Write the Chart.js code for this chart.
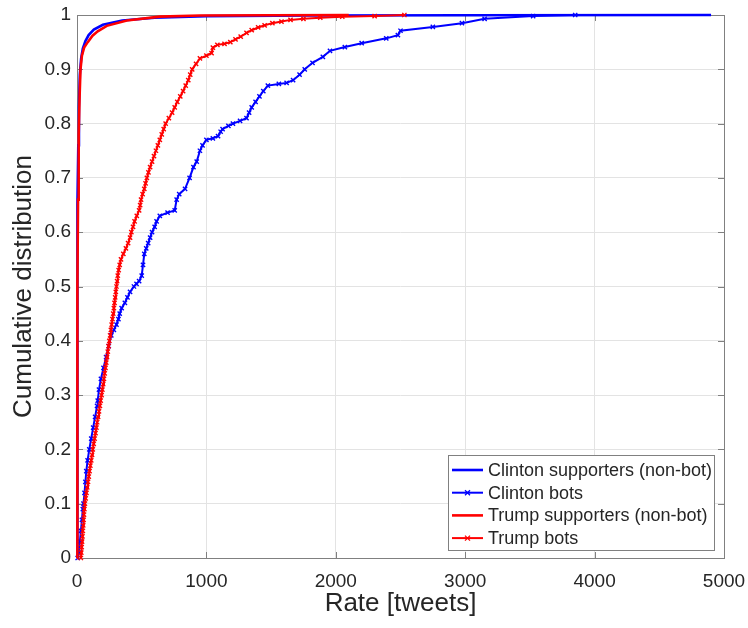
<!DOCTYPE html>
<html>
<head>
<meta charset="utf-8">
<title>Cumulative distribution of tweet rate</title>
<script src="https://cdn.jsdelivr.net/npm/chart.js@4/dist/chart.umd.min.js"></script>
<style>
  body { margin: 0; background: #fff; }
  #wrap { width: 748px; height: 628px; }
</style>
</head>
<body>
<div id="wrap"><canvas id="cdfChart" width="748" height="628"></canvas></div>
<script>
// Series: [rate, cumulative fraction] pairs
const clintonSupporters = [
  [0, 0], [1, 0.3], [3, 0.5], [6, 0.65], [10, 0.76], [15, 0.83], [22, 0.89], [32, 0.92],
  [45, 0.938], [65, 0.952], [90, 0.963], [130, 0.973], [200, 0.982], [350, 0.99],
  [600, 0.995], [1000, 0.998], [1800, 0.999], [3000, 0.9995], [4900, 1]
];
const clintonBots = [
  [5, 0], [15, 0.01], [22, 0.03], [30, 0.05], [38, 0.07], [45, 0.09], [50, 0.1], [58, 0.12],
  [65, 0.14], [72, 0.16], [82, 0.18], [95, 0.2], [110, 0.22], [125, 0.24], [140, 0.26],
  [155, 0.28], [160, 0.29], [170, 0.31], [185, 0.33], [205, 0.35], [225, 0.37], [245, 0.39],
  [265, 0.41], [285, 0.42], [305, 0.43], [320, 0.44], [330, 0.45], [345, 0.46], [370, 0.47],
  [390, 0.48], [410, 0.49], [440, 0.5], [460, 0.505], [480, 0.51], [500, 0.52], [510, 0.54],
  [520, 0.56], [535, 0.57], [550, 0.58], [565, 0.59], [580, 0.6], [600, 0.61], [615, 0.62],
  [640, 0.63], [700, 0.636], [755, 0.64], [770, 0.66], [790, 0.67], [835, 0.68], [870, 0.7],
  [900, 0.72], [925, 0.73], [950, 0.75], [970, 0.76], [1000, 0.77], [1050, 0.773],
  [1090, 0.777], [1110, 0.785], [1125, 0.79], [1170, 0.796], [1205, 0.8], [1260, 0.805],
  [1310, 0.81], [1330, 0.82], [1350, 0.83], [1380, 0.84], [1410, 0.85], [1440, 0.86],
  [1475, 0.87], [1560, 0.873], [1620, 0.875], [1670, 0.88], [1720, 0.89], [1760, 0.9],
  [1820, 0.912], [1900, 0.923], [1955, 0.934], [2070, 0.941], [2200, 0.948], [2390, 0.957],
  [2480, 0.963], [2500, 0.971], [2750, 0.978], [2975, 0.985], [3150, 0.993], [3525, 0.998],
  [3850, 1]
];
const trumpSupporters = [
  [0, 0], [2, 0.3], [4, 0.5], [8, 0.66], [13, 0.78], [20, 0.85], [27, 0.9], [38, 0.925],
  [55, 0.94], [83, 0.95], [120, 0.962], [160, 0.97], [230, 0.98], [385, 0.99], [640, 0.997],
  [950, 0.999], [1500, 0.9995], [2100, 1]
];
const trumpBots = [
  [30, 0], [33, 0.01], [36, 0.02], [39, 0.03], [42, 0.04], [45, 0.05], [48, 0.06], [51, 0.07],
  [54, 0.08], [57, 0.09], [61, 0.1], [67, 0.11], [73, 0.12], [79, 0.13], [85, 0.14], [91, 0.15],
  [97, 0.16], [103, 0.17], [110, 0.18], [116, 0.19], [122, 0.2], [129, 0.21], [136, 0.22],
  [143, 0.23], [150, 0.24], [156, 0.25], [163, 0.26], [170, 0.27], [177, 0.28], [183, 0.29],
  [190, 0.3], [196, 0.31], [202, 0.32], [208, 0.33], [214, 0.34], [220, 0.35], [226, 0.36],
  [232, 0.37], [238, 0.38], [244, 0.39], [250, 0.4], [256, 0.41], [262, 0.42], [268, 0.43],
  [274, 0.44], [280, 0.45], [285, 0.46], [290, 0.47], [295, 0.48], [300, 0.49], [305, 0.5],
  [310, 0.51], [315, 0.52], [322, 0.53], [330, 0.54], [340, 0.55], [358, 0.56], [378, 0.57],
  [395, 0.58], [410, 0.59], [420, 0.6], [433, 0.61], [445, 0.62], [462, 0.63], [480, 0.64],
  [488, 0.65], [495, 0.66], [507, 0.67], [520, 0.68], [530, 0.69], [540, 0.7], [552, 0.71],
  [565, 0.72], [580, 0.73], [595, 0.74], [610, 0.75], [625, 0.76], [640, 0.77], [655, 0.78],
  [670, 0.79], [685, 0.8], [710, 0.81], [735, 0.82], [755, 0.83], [775, 0.84], [798, 0.85],
  [820, 0.86], [840, 0.87], [860, 0.88], [875, 0.89], [890, 0.9], [920, 0.91], [950, 0.92],
  [1000, 0.925], [1040, 0.93], [1050, 0.94], [1085, 0.945], [1140, 0.947], [1185, 0.95],
  [1225, 0.955], [1265, 0.96], [1310, 0.967], [1350, 0.972], [1400, 0.977], [1450, 0.981],
  [1510, 0.985], [1580, 0.988], [1650, 0.991], [1750, 0.993], [1880, 0.995], [2050, 0.997],
  [2300, 0.998], [2530, 1]
];

const seriesLabels = [
  "Clinton supporters (non-bot)", "Clinton bots",
  "Trump supporters (non-bot)", "Trump bots"
];
const xTicks = [0, 1000, 2000, 3000, 4000, 5000];
const yTicks = [0, 0.1, 0.2, 0.3, 0.4, 0.5, 0.6, 0.7, 0.8, 0.9, 1];

const BLUE = "#0000ff";
const RED = "#ff0000";
const TEXT = "#262626";
const AXIS = "#808080";
const FONT = "'Liberation Sans', Arial, sans-serif";

function toPoints(pairs) {
  return pairs.map(p => ({ x: p[0], y: p[1] }));
}

function makeDataset(label, pairs, color, withMarkers, order) {
  return {
    label: label,
    data: toPoints(pairs),
    borderColor: color,
    backgroundColor: color,
    borderWidth: withMarkers ? 2 : 2.6,
    showLine: true,
    pointStyle: "crossRot",
    pointRadius: withMarkers ? 3 : 0,
    pointBorderWidth: 1.4,
    pointHoverRadius: 0,
    tension: 0,
    clip: 6,
    order: order,
    _markers: withMarkers
  };
}

// MATLAB-like box with inward ticks on all four sides
const boxPlugin = {
  id: "box",
  beforeDatasetsDraw(chart) {
    const { ctx, chartArea: a, scales } = chart;
    ctx.save();
    ctx.strokeStyle = AXIS;
    ctx.lineWidth = 1;
    ctx.strokeRect(a.left + 0.5, a.top + 0.5, a.right - a.left, a.bottom - a.top);
    ctx.beginPath();
    xTicks.forEach(v => {
      const px = Math.round(scales.x.getPixelForValue(v)) + 0.5;
      ctx.moveTo(px, a.bottom); ctx.lineTo(px, a.bottom - 6);
      ctx.moveTo(px, a.top); ctx.lineTo(px, a.top + 6);
    });
    yTicks.forEach(v => {
      const py = Math.round(scales.y.getPixelForValue(v)) + 0.5;
      ctx.moveTo(a.left, py); ctx.lineTo(a.left + 6, py);
      ctx.moveTo(a.right, py); ctx.lineTo(a.right - 6, py);
    });
    ctx.stroke();
    ctx.restore();
  }
};

// Legend box in the lower right corner of the plot
const legendPlugin = {
  id: "boxLegend",
  afterDraw(chart) {
    const { ctx } = chart;
    const x0 = 448, y0 = 455, w = 266, h = 95;
    ctx.save();
    ctx.fillStyle = "#fff";
    ctx.fillRect(x0, y0, w, h);
    ctx.strokeStyle = AXIS;
    ctx.lineWidth = 1;
    ctx.strokeRect(x0 + 0.5, y0 + 0.5, w, h);
    ctx.font = "18px " + FONT;
    ctx.textBaseline = "middle";
    chart.data.datasets.forEach((ds, i) => {
      const y = y0 + 15 + i * 22.7;
      ctx.strokeStyle = ds.borderColor;
      ctx.lineWidth = ds.borderWidth;
      ctx.beginPath();
      ctx.moveTo(x0 + 4, y); ctx.lineTo(x0 + 35, y);
      ctx.stroke();
      if (ds._markers) {
        const cx = x0 + 19.5;
        ctx.lineWidth = 1.3;
        ctx.beginPath();
        ctx.moveTo(cx - 2.5, y - 2.5); ctx.lineTo(cx + 2.5, y + 2.5);
        ctx.moveTo(cx - 2.5, y + 2.5); ctx.lineTo(cx + 2.5, y - 2.5);
        ctx.stroke();
      }
      ctx.fillStyle = TEXT;
      ctx.fillText(ds.label, x0 + 40, y + 1);
    });
    ctx.restore();
  }
};

function initChart() {
  const ctx = document.getElementById("cdfChart").getContext("2d");
  new Chart(ctx, {
    type: "scatter",
    data: {
      datasets: [
        makeDataset(seriesLabels[0], clintonSupporters, BLUE, false, 4),
        makeDataset(seriesLabels[1], clintonBots, BLUE, true, 3),
        makeDataset(seriesLabels[2], trumpSupporters, RED, false, 2),
        makeDataset(seriesLabels[3], trumpBots, RED, true, 1)
      ]
    },
    options: {
      responsive: false,
      animation: false,
      events: [],
      layout: { padding: { top: 15, right: 24, left: 0, bottom: 0 } },
      plugins: { legend: { display: false }, tooltip: { enabled: false } },
      scales: {
        x: {
          type: "linear",
          min: 0, max: 5000,
          afterFit: s => { s.height = 70; s.paddingLeft = 0; s.paddingRight = 0; },
          afterBuildTicks: s => { s.ticks = xTicks.map(v => ({ value: v })); },
          grid: { color: "#e3e3e3", drawTicks: false },
          border: { display: false },
          ticks: {
            color: TEXT, padding: 12,
            font: { family: FONT, size: 19 },
            callback: v => String(v)
          },
          title: {
            display: true, text: "Rate [tweets]", color: TEXT,
            font: { family: FONT, size: 26 },
            padding: { top: 0, bottom: 9 }
          }
        },
        y: {
          type: "linear",
          min: 0, max: 1,
          afterFit: s => { s.width = 77; s.paddingTop = 0; s.paddingBottom = 0; },
          afterBuildTicks: s => { s.ticks = yTicks.map(v => ({ value: v })); },
          grid: { color: "#e3e3e3", drawTicks: false },
          border: { display: false },
          ticks: {
            color: TEXT, padding: 6,
            font: { family: FONT, size: 19 },
            callback: v => String(+v.toFixed(1))
          },
          title: {
            display: true, text: "Cumulative distribution", color: TEXT,
            font: { family: FONT, size: 26 },
            padding: { top: 8, bottom: 0 }
          }
        }
      }
    },
    plugins: [boxPlugin, legendPlugin]
  });
}

document.addEventListener("DOMContentLoaded", initChart);
</script>
</body>
</html>
